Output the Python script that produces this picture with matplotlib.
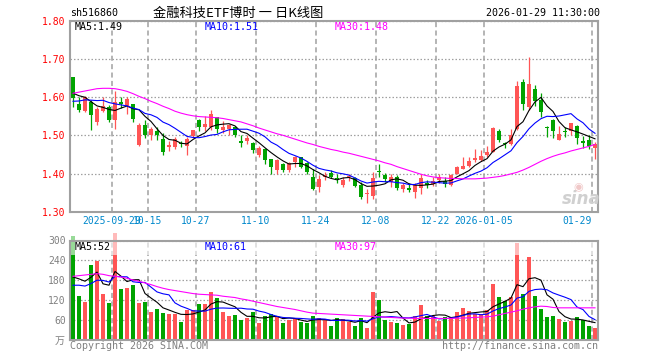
import numpy as np
import pandas as pd
import matplotlib
matplotlib.use('Agg')
import matplotlib.pyplot as plt
from matplotlib.patches import Rectangle

plt.rcParams['font.family'] = ['DejaVu Sans Mono', 'Noto Sans CJK SC']

code = 'sh516860'
title = '金融科技ETF博时 一 日K线图'
stamp = '2026-01-29 11:30:00'

# trading calendar of the window
start_date = '2025-09-18'
end_date = '2026-01-29'
holidays = ['2025-10-01', '2025-10-02', '2025-10-03', '2025-10-06', '2025-10-07',
            '2025-10-08', '2026-01-01', '2026-01-02']

opens = [1.653, 1.583, 1.564, 1.588, 1.534, 1.563, 1.575, 1.539, 1.586, 1.578,
         1.583, 1.475, 1.527, 1.500, 1.512, 1.491, 1.469, 1.469, 1.480, 1.472,
         1.497, 1.539, 1.521, 1.521, 1.548, 1.514, 1.516, 1.523, 1.485, 1.486,
         1.481, 1.448, 1.465, 1.437, 1.410, 1.425, 1.408, 1.430, 1.442, 1.428,
         1.391, 1.365, 1.391, 1.402, 1.388, 1.369, 1.390, 1.389, 1.369, 1.346,
         1.340, 1.406, 1.396, 1.378, 1.391, 1.359, 1.361, 1.352, 1.361, 1.375,
         1.372, 1.383, 1.380, 1.369, 1.400, 1.413, 1.420, 1.435, 1.435, 1.448,
         1.457, 1.511, 1.480, 1.477, 1.516, 1.639, 1.574, 1.622, 1.593, 1.522,
         1.540, 1.489, 1.511, 1.512, 1.525, 1.484, 1.488, 1.466]
highs = [1.653, 1.600, 1.602, 1.593, 1.575, 1.600, 1.580, 1.615, 1.600, 1.600,
         1.583, 1.532, 1.541, 1.522, 1.522, 1.507, 1.484, 1.495, 1.484, 1.495,
         1.515, 1.542, 1.551, 1.565, 1.548, 1.538, 1.530, 1.525, 1.500, 1.500,
         1.483, 1.472, 1.467, 1.437, 1.437, 1.428, 1.431, 1.446, 1.444, 1.430,
         1.413, 1.395, 1.404, 1.409, 1.400, 1.391, 1.400, 1.392, 1.378, 1.360,
         1.405, 1.426, 1.402, 1.398, 1.396, 1.376, 1.376, 1.376, 1.398, 1.384,
         1.391, 1.400, 1.392, 1.398, 1.419, 1.444, 1.442, 1.463, 1.461, 1.472,
         1.523, 1.516, 1.483, 1.516, 1.643, 1.647, 1.704, 1.632, 1.612, 1.525,
         1.542, 1.525, 1.521, 1.533, 1.528, 1.497, 1.501, 1.483]
lows = [1.573, 1.562, 1.560, 1.513, 1.528, 1.562, 1.536, 1.517, 1.571, 1.556,
        1.534, 1.472, 1.493, 1.488, 1.487, 1.449, 1.458, 1.464, 1.470, 1.449,
        1.493, 1.510, 1.510, 1.514, 1.507, 1.505, 1.500, 1.496, 1.470, 1.477,
        1.453, 1.444, 1.426, 1.400, 1.400, 1.404, 1.404, 1.418, 1.414, 1.400,
        1.356, 1.351, 1.382, 1.387, 1.374, 1.365, 1.380, 1.364, 1.334, 1.323,
        1.334, 1.391, 1.379, 1.365, 1.358, 1.352, 1.352, 1.337, 1.347, 1.363,
        1.367, 1.374, 1.365, 1.367, 1.398, 1.412, 1.418, 1.431, 1.433, 1.444,
        1.455, 1.483, 1.466, 1.475, 1.514, 1.567, 1.567, 1.577, 1.547, 1.495,
        1.492, 1.488, 1.495, 1.500, 1.478, 1.466, 1.465, 1.438]
closes = [1.597, 1.567, 1.600, 1.552, 1.569, 1.577, 1.541, 1.586, 1.583, 1.596,
          1.542, 1.527, 1.500, 1.516, 1.500, 1.455, 1.474, 1.490, 1.477, 1.491,
          1.513, 1.521, 1.530, 1.556, 1.516, 1.523, 1.527, 1.501, 1.481, 1.492,
          1.461, 1.468, 1.435, 1.418, 1.435, 1.409, 1.427, 1.442, 1.418, 1.404,
          1.360, 1.386, 1.395, 1.391, 1.385, 1.384, 1.393, 1.367, 1.339, 1.349,
          1.388, 1.404, 1.385, 1.391, 1.362, 1.370, 1.356, 1.369, 1.387, 1.369,
          1.380, 1.391, 1.372, 1.396, 1.417, 1.420, 1.433, 1.440, 1.445, 1.456,
          1.518, 1.488, 1.477, 1.501, 1.630, 1.582, 1.635, 1.589, 1.560, 1.518,
          1.510, 1.503, 1.508, 1.532, 1.492, 1.481, 1.472, 1.477]
# volume, 万手
volumes = [315, 132, 114, 225, 238, 138, 111, 322, 153, 157,
           165, 112, 114, 85, 93, 81, 79, 79, 55, 90,
           90, 108, 110, 144, 126, 84, 72, 75, 60, 66,
           84, 50, 72, 78, 72, 50, 60, 64, 54, 52,
           72, 66, 62, 42, 66, 63, 54, 42, 66, 36,
           144, 120, 60, 54, 51, 45, 48, 72, 105, 72,
           72, 58, 68, 68, 84, 96, 87, 78, 78, 90,
           168, 129, 117, 129, 291, 138, 249, 132, 92, 70,
           72, 63, 54, 57, 68, 60, 42, 35]

# sessions before the window, only to start MA5/MA10 where the chart does
prev_closes = [1.56, 1.57, 1.56, 1.58, 1.57, 1.60, 1.62, 1.61, 1.624]
prev_volumes = [130, 140, 150, 135, 145, 160, 150, 165, 160]

# MA30
ma30_price = [1.610, 1.613, 1.616, 1.619, 1.622, 1.623, 1.623, 1.622, 1.619, 1.615,
              1.609, 1.602, 1.596, 1.589, 1.583, 1.576, 1.570, 1.563, 1.558, 1.554,
              1.551, 1.549, 1.548, 1.547, 1.546, 1.544, 1.541, 1.538, 1.535, 1.530,
              1.525, 1.519, 1.514, 1.509, 1.504, 1.500, 1.495, 1.490, 1.485, 1.480,
              1.476, 1.471, 1.467, 1.463, 1.460, 1.456, 1.453, 1.449, 1.445, 1.441,
              1.437, 1.433, 1.428, 1.424, 1.418, 1.413, 1.408, 1.403, 1.398, 1.394,
              1.391, 1.389, 1.388, 1.387, 1.387, 1.386, 1.386, 1.386, 1.387, 1.388,
              1.390, 1.392, 1.395, 1.399, 1.403, 1.409, 1.416, 1.424, 1.432, 1.439,
              1.445, 1.450, 1.454, 1.459, 1.463, 1.467, 1.471, 1.476]
ma30_volume = [192, 194, 196, 198, 200, 198, 194, 192, 190, 186,
               181, 177, 172, 167, 161, 156, 152, 149, 146, 143,
               140, 138, 137, 136, 135, 132, 130, 128, 124, 121,
               117, 113, 109, 105, 101, 98, 95, 92, 88, 84,
               81, 80, 79, 78, 77, 76, 75, 74, 73, 72,
               71, 70, 69, 68, 67, 66, 66, 65, 65, 65,
               65, 65, 65, 65, 66, 66, 67, 68, 69, 70,
               72, 76, 80, 84, 88, 93, 97, 100, 102, 101,
               98, 97, 97, 97, 97, 97, 97, 97]

tick_dates = ['2025-09-29', '2025-10-15', '2025-10-27', '2025-11-10', '2025-11-24',
              '2025-12-08', '2025-12-22', '2026-01-05', '2026-01-29']
tick_labels = ['2025-09-29', '10-15', '10-27', '11-10', '11-24',
               '12-08', '12-22', '2026-01-05', '01-29']
price_ticks = [1.30, 1.40, 1.50, 1.60, 1.70, 1.80]
volume_ticks = [60, 120, 180, 240, 300]

RED = '#FF5555'
GREEN = '#00A300'
GRID = '#A0A0A0'
W, H = 660, 360


def px(x, y):
    return x / W, 1 - y / H


days = pd.bdate_range(start_date, end_date)
days = days[~days.isin(pd.to_datetime(holidays))]
n = len(days)
x = np.arange(n) + 0.5
tick_pos = days.get_indexer(pd.to_datetime(tick_dates))

o = np.array(opens)
h = np.array(highs)
l = np.array(lows)
c = np.array(closes)
v = np.array(volumes, dtype=float)
up = c >= o
colors = np.where(up, RED, GREEN)

c_all = pd.Series(prev_closes + closes)
ma5 = c_all.rolling(5).mean().values[len(prev_closes):]
ma10 = c_all.rolling(10).mean().values[len(prev_closes):]
v_all = pd.Series(prev_volumes + volumes)
vma5 = v_all.rolling(5).mean().values[len(prev_volumes):]
vma10 = v_all.rolling(10).mean().values[len(prev_volumes):]

fig = plt.figure(figsize=(6.6, 3.6), dpi=100)
ax1 = fig.add_axes([70 / W, 1 - 211.7 / H, 528 / W, 191 / H])
ax2 = fig.add_axes([70 / W, 1 - 340 / H, 528 / W, 99.5 / H])

for ax in (ax1, ax2):
    ax.set_xlim(0, n)
    ax.set_axisbelow(True)
    ax.set_xticks(tick_pos)
    ax.grid(axis='x', color=GRID, linestyle=(0, (3.3, 2.2)), linewidth=1.1)
    ax.grid(axis='y', color=GRID, linestyle=(0, (1.2, 1.6)), linewidth=0.9)
    for s in ax.spines.values():
        s.set_color(GRID)
        s.set_linewidth(1.5)
    ax.tick_params(length=0, labelsize=7)

# price panel
ax1.set_ylim(1.30, 1.80)
ax1.set_yticks(price_ticks)
ax1.set_yticklabels(['%.2f' % t for t in price_ticks])
ax1.tick_params(axis='y', labelcolor='#FF0000', pad=3)
ax1.set_xticklabels(tick_labels)
ax1.tick_params(axis='x', labelcolor='#0088CC', pad=3)
ax1.get_xticklabels()[-1].set_horizontalalignment('right')

ax1.vlines(x, l, h, colors=colors, linewidth=0.9, zorder=2)
ax1.bar(x, np.maximum(np.abs(c - o), 0.0018), bottom=np.minimum(o, c), width=0.8,
        color=colors, linewidth=0, zorder=2.1)
ax1.plot(x, ma5, color='black', linewidth=0.8, zorder=3)
ax1.plot(x, ma10, color='#0000FF', linewidth=0.8, zorder=3)
ax1.plot(x, ma30_price, color='#FF00FF', linewidth=0.8, zorder=3)

# volume panel
ax2.set_ylim(0, 300)
ax2.set_yticks(volume_ticks)
ax2.tick_params(axis='y', labelcolor='#808080', pad=3)
ax2.tick_params(axis='x', labelbottom=False)
ax2.bar(x, v, width=0.8, color=colors, linewidth=0, clip_on=False, zorder=2)
ax2.add_patch(Rectangle((0, 255), n, 70, facecolor='white', alpha=0.6, linewidth=0,
                        clip_on=False, zorder=2.3))
ax2.plot(x, vma5, color='black', linewidth=0.8, zorder=3)
ax2.plot(x, vma10, color='#0000FF', linewidth=0.8, zorder=3)
ax2.plot(x, ma30_volume, color='#FF00FF', linewidth=0.8, zorder=3)

# header and legends
fs = 7.2
fig.text(*px(70, 13), code, fontsize=fs, va='center')
fig.text(*px(238, 13), title, fontsize=9.5, va='center', ha='center',
         family=['Noto Sans CJK SC', 'DejaVu Sans'])
fig.text(*px(600, 13), stamp, fontsize=fs, va='center', ha='right')

fig.text(*px(75, 26.5), 'MA5:%.2f' % ma5[-1], fontsize=fs, va='center', color='black')
fig.text(*px(205, 26.5), 'MA10:%.2f' % ma10[-1], fontsize=fs, va='center', color='#0000FF')
fig.text(*px(335, 26.5), 'MA30:%.2f' % ma30_price[-1], fontsize=fs, va='center', color='#FF00FF')

fig.text(*px(75, 246.7), 'MA5:%.0f' % vma5[-1], fontsize=fs, va='center', color='black', zorder=5)
fig.text(*px(205, 246.7), 'MA10:%.0f' % vma10[-1], fontsize=fs, va='center', color='#0000FF')
fig.text(*px(335, 246.7), 'MA30:%.0f' % ma30_volume[-1], fontsize=fs, va='center', color='#FF00FF')

fig.text(*px(65, 341), '万', fontsize=fs, va='center', ha='right', color='#808080')
fig.text(*px(70, 346), 'Copyright 2026 SINA.COM', fontsize=fs, va='center', color='#808080')
fig.text(*px(598, 346), 'http://finance.sina.com.cn', fontsize=fs, va='center', ha='right',
         color='#808080')
fig.text(*px(581, 199), 'sina', fontsize=12, va='center', ha='center', color='#D0D0D0',
         style='italic', weight='bold', family='DejaVu Sans')
fig.text(*px(578, 187), '◉', fontsize=8, va='center', ha='center', color='#F0C8C8',
         family='DejaVu Sans')

fig.savefig('out.png', dpi=100)
